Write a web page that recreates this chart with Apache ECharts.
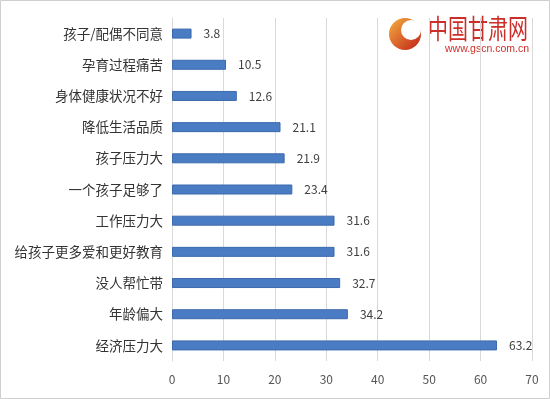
<!DOCTYPE html>
<html>
<head>
<meta charset="utf-8">
<script src="https://cdn.jsdelivr.net/npm/echarts@6/dist/echarts.min.js"></script>
<style>
  html, body { margin: 0; padding: 0; background: #fff; }
  #chart { width: 550px; height: 399px; }
</style>
</head>
<body>
<div id="chart"></div>
<script>
const categories = [
  '孩子/配偶不同意', '孕育过程痛苦', '身体健康状况不好', '降低生活品质',
  '孩子压力大', '一个孩子足够了', '工作压力大', '给孩子更多爱和更好教育',
  '没人帮忙带', '年龄偏大', '经济压力大'
];
const values = [3.8, 10.5, 12.6, 21.1, 21.9, 23.4, 31.6, 31.6, 32.7, 34.2, 63.2];

const BAR = '#4a7cc4';
const FONT = '"Noto Sans CJK SC", sans-serif';

const chart = echarts.init(document.getElementById('chart'));

chart.setOption({
  animation: false,
  backgroundColor: '#fff',
  textStyle: { fontFamily: FONT },
  grid: { left: 172, right: 18, top: 18, bottom: 38 },
  xAxis: {
    type: 'value',
    min: 0,
    max: 70,
    interval: 10,
    axisLine: { show: false },
    axisTick: { show: false },
    axisLabel: { color: '#555', fontSize: 12, margin: 12 },
    splitLine: { lineStyle: { color: '#d9d9d9' } }
  },
  yAxis: {
    type: 'category',
    inverse: true,
    data: categories,
    axisLine: { show: true, lineStyle: { color: '#d9d9d9' } },
    axisTick: { show: false },
    axisLabel: { color: '#333', fontSize: 13.5, margin: 9 }
  },
  series: [{
    type: 'bar',
    data: values,
    barWidth: 10,
    itemStyle: { color: BAR, borderColor: '#3b6aad', borderWidth: 1 },
    label: {
      show: true,
      position: 'right',
      distance: 12,
      color: '#404040',
      fontSize: 12
    }
  }],
  graphic: [
    {
      type: 'rect',
      shape: { x: 0.5, y: 0.5, width: 549, height: 398 },
      style: { fill: 'none', stroke: '#cfcfcf', lineWidth: 1 },
      silent: true
    },
    // site logo
    {
      type: 'circle',
      shape: { cx: 405, cy: 34, r: 16 },
      style: {
        fill: new echarts.graphic.LinearGradient(0, 0, 1, 1, [
          { offset: 0, color: '#f5b040' },
          { offset: 1, color: '#c0201a' }
        ])
      }
    },
    {
      type: 'circle',
      shape: { cx: 411, cy: 30, r: 10 },
      style: { fill: '#fff' }
    },
    {
      type: 'text',
      x: 428,
      y: 15,
      scaleY: 1.35,
      style: {
        text: '中国甘肃网',
        fill: '#cc2f2a',
        font: '20px "Noto Sans CJK SC", sans-serif'
      }
    },
    {
      type: 'text',
      x: 445,
      y: 44,
      style: {
        text: 'www.gscn.com.cn',
        fill: '#cc2f2a',
        font: '10.5px "Liberation Sans", sans-serif'
      }
    }
  ]
});
</script>
</body>
</html>
